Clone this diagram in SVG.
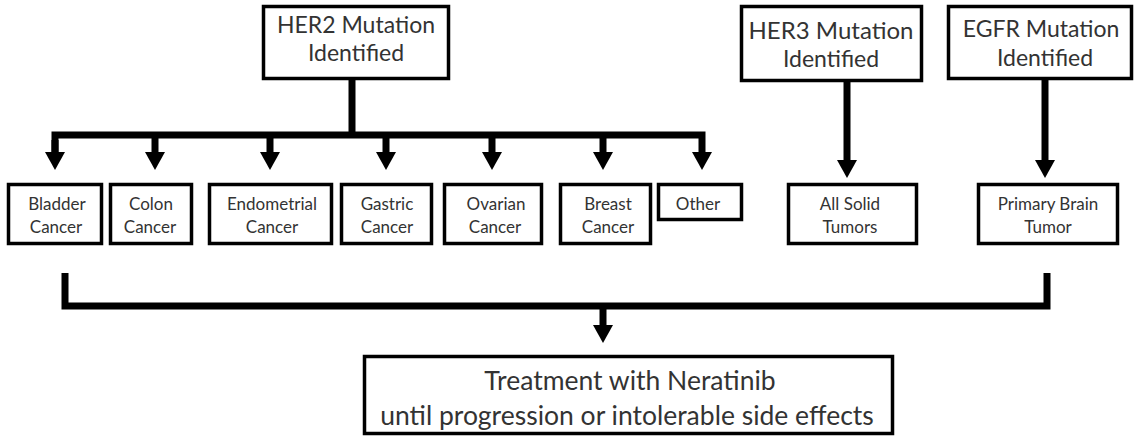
<svg xmlns="http://www.w3.org/2000/svg" width="1135" height="438" viewBox="0 0 1135 438">
<defs>
<style>
.box{fill:#fff;stroke:#000;stroke-width:3.5}
.conn{fill:none;stroke:#000;stroke-width:7;stroke-linejoin:miter}
.big{font-family:Lato,"Open Sans",sans-serif;font-size:23px;fill:#333;text-anchor:middle}
.sm{font-family:Lato,"Open Sans",sans-serif;font-size:17px;fill:#333;text-anchor:middle}
.bt{font-family:Lato,"Open Sans",sans-serif;font-size:26.5px;fill:#333;text-anchor:middle}
</style>
<marker id="ah" viewBox="0 0 18 20" refX="0" refY="10" markerWidth="18" markerHeight="20" markerUnits="userSpaceOnUse" orient="auto">
<path d="M0,0 L18,10 L0,20 z" fill="#000"/>
</marker>
</defs>
<g id="connectors">
<path class="conn" d="M352,80 V135"/>
<path class="conn" d="M55,152 V135 H702 V152" marker-end="url(#ah)"/>
<path class="conn" d="M55,140 V152" marker-end="url(#ah)"/>
<path class="conn" d="M155,135 V152" marker-end="url(#ah)"/>
<path class="conn" d="M270,135 V152" marker-end="url(#ah)"/>
<path class="conn" d="M386,135 V152" marker-end="url(#ah)"/>
<path class="conn" d="M492,135 V152" marker-end="url(#ah)"/>
<path class="conn" d="M603,135 V152" marker-end="url(#ah)"/>
<path class="conn" d="M847,82 V160" marker-end="url(#ah)"/>
<path class="conn" d="M1045,80 V160" marker-end="url(#ah)"/>
<path class="conn" d="M65,273 V306 H1047 V273"/>
<path class="conn" d="M603,306 V325" marker-end="url(#ah)"/>
</g>
<g id="her2">
<rect class="box" x="263.5" y="6.5" width="185" height="72"/>
<text class="big" x="356" y="33">HER2 Mutation</text>
<text class="big" x="356" y="61">Identified</text>
</g>
<g id="her3">
<rect class="box" x="741.5" y="6.5" width="180" height="74"/>
<text class="big" x="831" y="39" style="font-size:24px">HER3 Mutation</text>
<text class="big" x="831" y="67">Identified</text>
</g>
<g id="egfr">
<rect class="box" x="948.5" y="6.5" width="183" height="72"/>
<text class="big" x="1041" y="37">EGFR Mutation</text>
<text class="big" x="1045" y="66">Identified</text>
</g>
<g id="bladder">
<rect class="box" x="8.5" y="184.5" width="93" height="59"/>
<text class="sm" x="57" y="210">Bladder</text>
<text class="sm" x="56" y="233">Cancer</text>
</g>
<g id="colon">
<rect class="box" x="110.5" y="184.5" width="81" height="59"/>
<text class="sm" x="151" y="210">Colon</text>
<text class="sm" x="150" y="233">Cancer</text>
</g>
<g id="endometrial">
<rect class="box" x="209.5" y="184.5" width="122" height="59"/>
<text class="sm" x="272" y="210">Endometrial</text>
<text class="sm" x="272" y="233">Cancer</text>
</g>
<g id="gastric">
<rect class="box" x="341.5" y="184.5" width="90" height="59"/>
<text class="sm" x="387" y="210">Gastric</text>
<text class="sm" x="387" y="233">Cancer</text>
</g>
<g id="ovarian">
<rect class="box" x="444.5" y="184.5" width="97" height="59"/>
<text class="sm" x="496" y="210">Ovarian</text>
<text class="sm" x="495" y="233">Cancer</text>
</g>
<g id="breast">
<rect class="box" x="560.5" y="184.5" width="90" height="59"/>
<text class="sm" x="608" y="210">Breast</text>
<text class="sm" x="608" y="233">Cancer</text>
</g>
<g id="other">
<rect class="box" x="658.5" y="184.5" width="83" height="35"/>
<text class="sm" x="698" y="210">Other</text>
</g>
<g id="solid">
<rect class="box" x="788.5" y="184.5" width="128" height="59"/>
<text class="sm" x="850" y="210">All Solid</text>
<text class="sm" x="850" y="233">Tumors</text>
</g>
<g id="brain">
<rect class="box" x="978.5" y="184.5" width="139" height="59"/>
<text class="sm" x="1048" y="210">Primary Brain</text>
<text class="sm" x="1048" y="233">Tumor</text>
</g>
<g id="treatment">
<rect class="box" x="364.5" y="356.5" width="528" height="77"/>
<text class="bt" x="630" y="390">Treatment with Neratinib</text>
<text class="bt" x="627" y="425">until progression or intolerable side effects</text>
</g>
</svg>
